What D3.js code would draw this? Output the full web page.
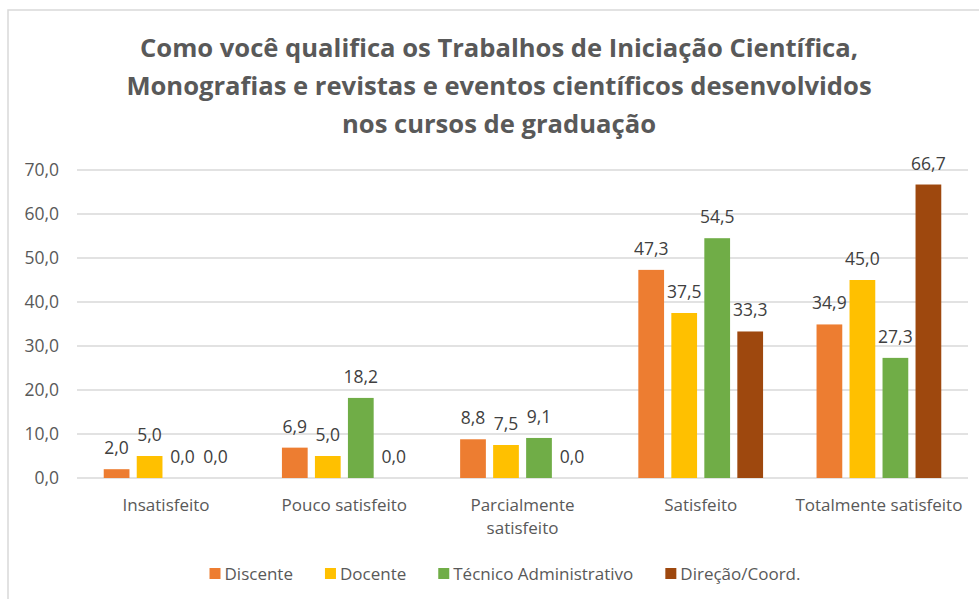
<!DOCTYPE html>
<html><head><meta charset="utf-8">
<script src="https://cdn.jsdelivr.net/npm/d3@7"></script>
<style>body{margin:0;background:#fff}svg{display:block}text{font-family:"Open Sans",sans-serif}</style>
</head><body><svg id="c" width="979" height="599"></svg>
<script>
const titleLines = ["Como você qualifica os Trabalhos de Iniciação Científica,","Monografias e revistas e eventos científicos desenvolvidos","nos cursos de graduação"];
const categories = ["Insatisfeito","Pouco satisfeito","Parcialmente satisfeito","Satisfeito","Totalmente satisfeito"];
const categoryLines = [["Insatisfeito"],["Pouco satisfeito"],["Parcialmente","satisfeito"],["Satisfeito"],["Totalmente satisfeito"]];
const seriesNames = ["Discente","Docente","Técnico Administrativo","Direção/Coord."];
const discente = [2.0, 6.9, 8.8, 47.3, 34.9];
const docente = [5.0, 5.0, 7.5, 37.5, 45.0];
const tecnico = [0.0, 18.2, 9.1, 54.5, 27.3];
const direcao = [0.0, 0.0, 0.0, 33.3, 66.7];
const yTicks = [0,10,20,30,40,50,60,70];
const colors = ["#ED7D31","#FFC000","#70AD47","#9E480E"];
const seriesValues = [discente, docente, tecnico, direcao];

const svg = d3.select("#c");
const fmt = v => d3.format(".1f")(v).replace(".", ",");

svg.append("rect").attr("x",8).attr("y",10).attr("width",990).attr("height",620)
  .attr("fill","#fff").attr("stroke","#D9D9D9").attr("stroke-width",1.5);

const title = svg.append("text").attr("text-anchor","middle").attr("fill","#595959")
  .attr("font-size",25.6).attr("font-weight","bold");
titleLines.forEach((l,i)=>title.append("tspan").attr("x",499).attr("y",57+i*38).text(l));

const plotL = 77, plotR = 968;
const y = d3.scaleLinear().domain([0,70]).range([478,170]);
const x0 = d3.scaleBand().domain(categories).range([plotL,plotR]).paddingInner(0.3).paddingOuter(0.15);
const x1 = d3.scaleBand().domain(seriesNames).range([0,x0.bandwidth()]).paddingInner(0.22);

svg.append("g").selectAll("line").data(yTicks).join("line")
  .attr("x1",plotL).attr("x2",plotR).attr("y1",d=>y(d)).attr("y2",d=>y(d))
  .attr("stroke","#D9D9D9").attr("stroke-width",1.3);

svg.append("g").selectAll("text").data(yTicks).join("text")
  .attr("x",59).attr("y",d=>y(d)+6).attr("text-anchor","end").attr("fill","#595959")
  .attr("font-size",17.5).text(d=>fmt(d));

const data = [];
categories.forEach((c,ci)=>seriesNames.forEach((s,si)=>data.push({c,s,si,v:seriesValues[si][ci]})));

svg.append("g").selectAll("rect").data(data.filter(d=>d.v>0)).join("rect")
  .attr("x",d=>x0(d.c)+x1(d.s)).attr("width",x1.bandwidth())
  .attr("y",d=>y(d.v)).attr("height",d=>y(0)-y(d.v)).attr("fill",d=>colors[d.si]);

svg.append("g").selectAll("text").data(data).join("text")
  .attr("x",d=>x0(d.c)+x1(d.s)+x1.bandwidth()/2).attr("y",d=>y(d.v)-15)
  .attr("text-anchor","middle").attr("fill","#404040").attr("font-size",17.5).text(d=>fmt(d.v));

const cat = svg.append("g");
categories.forEach((c,i)=>{
  const t = cat.append("text").attr("text-anchor","middle").attr("fill","#595959").attr("font-size",17);
  categoryLines[i].forEach((l,j)=>t.append("tspan").attr("x",x0(c)+x0.bandwidth()/2).attr("y",511+j*23).text(l));
});

const leg = svg.append("g");
let lx = 0;
seriesNames.forEach((s,i)=>{
  const g = leg.append("g");
  g.append("rect").attr("x",0).attr("y",-6).attr("width",11).attr("height",11).attr("fill",colors[i]);
  const t = g.append("text").attr("x",15).attr("y",5.5).attr("fill","#595959").attr("font-size",17).text(s);
  const w = 15 + t.node().getComputedTextLength();
  g.attr("transform",`translate(${lx},0)`);
  lx += w + 32;
});
const total = lx - 32;
leg.attr("transform",`translate(${505-total/2},574)`);
</script></body></html>
